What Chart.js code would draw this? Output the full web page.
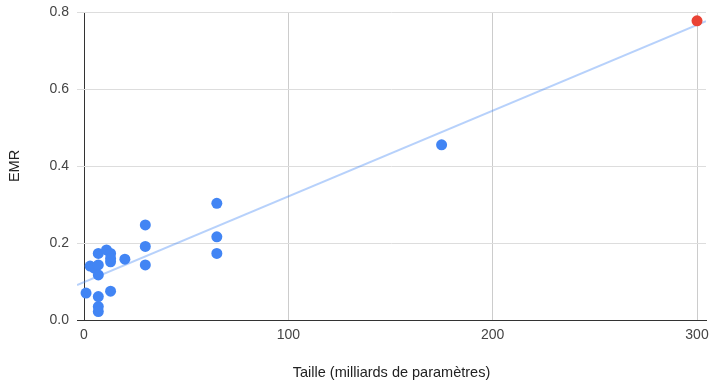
<!DOCTYPE html>
<html>
<head>
<meta charset="utf-8">
<script src="https://cdn.jsdelivr.net/npm/chart.js@4/dist/chart.umd.min.js"></script>
<style>
  html, body { margin: 0; padding: 0; background: #fff; }
  #wrap { width: 713px; height: 381px; }
</style>
</head>
<body>
<div id="wrap"><canvas id="c" width="713" height="381"></canvas></div>
<script>
// Model size (billions of parameters) and EMR score
const sizes = [1, 3, 5, 7, 7, 7, 7, 7, 7, 11, 13, 13, 13, 13, 20, 30, 30, 30, 65, 65, 65, 175];
const emr   = [0.07, 0.14, 0.135, 0.173, 0.143, 0.117, 0.061, 0.035, 0.022, 0.182, 0.173, 0.151, 0.075, 0.160, 0.158, 0.247, 0.191, 0.143, 0.303, 0.216, 0.173, 0.455];
// Highlighted model
const highlightSize = [300];
const highlightEmr  = [0.777];
// Linear trendline end points
const trendSize = [-3.4, 304.4];
const trendEmr  = [0.091, 0.776];

const xTicks = [0, 100, 200, 300];
const yTicks = [0, 0.2, 0.4, 0.6, 0.8];

const toPts = (xs, ys) => xs.map((x, i) => ({ x: x, y: ys[i] }));

const tickFont = { family: "'Liberation Sans', Arial, sans-serif", size: 14 };
const titleFont = { family: "'Liberation Sans', Arial, sans-serif", size: 14.5 };

new Chart(document.getElementById('c'), {
  type: 'scatter',
  data: {
    datasets: [
      {
        data: toPts(highlightSize, highlightEmr),
        backgroundColor: '#EA4335',
        borderColor: '#EA4335',
        pointRadius: 5.5,
        pointBorderWidth: 0,
        order: 0
      },
      {
        data: toPts(sizes, emr),
        backgroundColor: '#4285F4',
        borderColor: '#4285F4',
        pointRadius: 5.5,
        pointBorderWidth: 0,
        order: 1
      },
      {
        type: 'line',
        data: toPts(trendSize, trendEmr),
        borderColor: 'rgba(66,133,244,0.38)',
        borderWidth: 2,
        pointRadius: 0,
        fill: false,
        order: 2
      }
    ]
  },
  options: {
    responsive: false,
    animation: false,
    events: [],
    layout: { autoPadding: false, padding: { left: 0, right: 7, top: 12, bottom: 0 } },
    plugins: { legend: { display: false }, tooltip: { enabled: false } },
    scales: {
      x: {
        type: 'linear',
        min: -3.43,
        max: 304.4,
        afterBuildTicks: (s) => { s.ticks = xTicks.map(v => ({ value: v })); },
        afterFit: (s) => { s.height = 61; s.paddingLeft = 0; s.paddingRight = 0; },
        ticks: { font: tickFont, color: '#444', padding: 7, includeBounds: false, maxRotation: 0 },
        grid: {
          drawTicks: false,
          color: (ctx) => (ctx.tick && ctx.tick.value === 0) ? '#333' : '#ccc',
          lineWidth: 1
        },
        border: { display: true, color: '#333', width: 1 },
        title: {
          display: true,
          text: 'Taille (milliards de paramètres)',
          font: titleFont,
          color: '#222',
          padding: { top: 0, bottom: -1 }
        }
      },
      y: {
        min: 0,
        max: 0.8,
        afterBuildTicks: (s) => { s.ticks = yTicks.map(v => ({ value: v })); },
        afterFit: (s) => { s.width = 77; s.paddingTop = 0; s.paddingBottom = 0; },
        ticks: { font: tickFont, color: '#444', padding: 8, callback: (v) => Number(v).toFixed(1) },
        grid: {
          drawTicks: false,
          color: (ctx) => (ctx.tick && ctx.tick.value === 0) ? 'rgba(0,0,0,0)' : '#ddd',
          lineWidth: 1
        },
        border: { display: false },
        title: {
          display: true,
          text: 'EMR',
          font: titleFont,
          color: '#222',
          padding: { top: 6, bottom: 0 }
        }
      }
    }
  }
});
</script>
</body>
</html>
